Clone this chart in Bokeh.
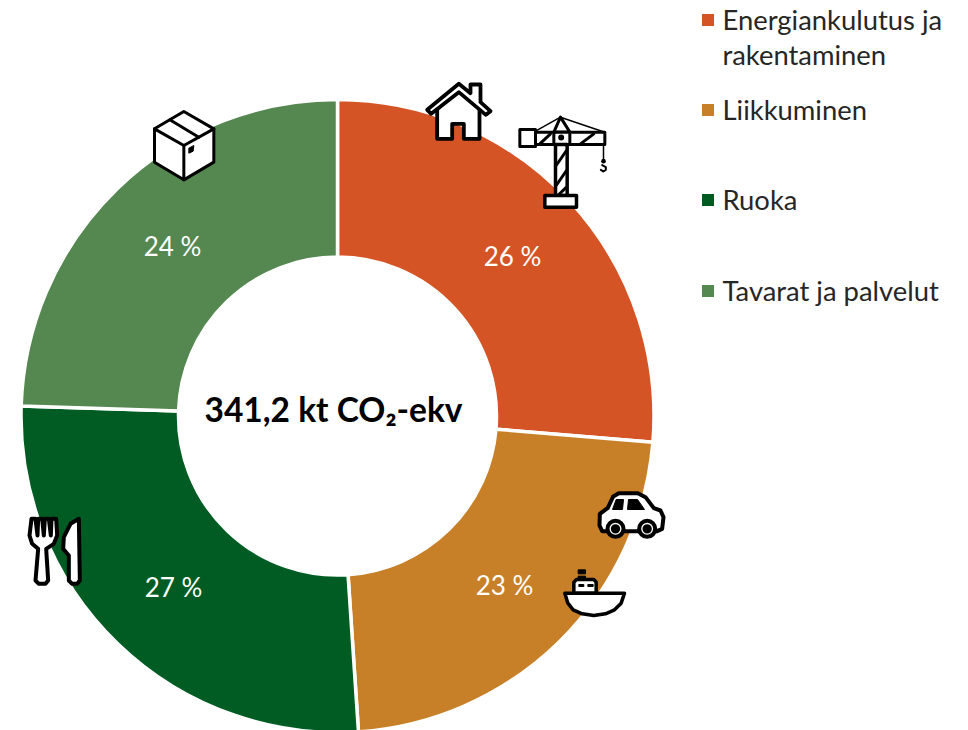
from math import pi
from bokeh.plotting import figure, ColumnDataSource
from bokeh.core.properties import value
from bokeh.embed import file_html
from bokeh.resources import INLINE

categories = ["Energiankulutus ja rakentaminen", "Liikkuminen", "Ruoka", "Tavarat ja palvelut"]
emissions = [89.8, 77.2, 90.6, 83.6]
percent_labels = ["26 %", "23 %", "27 %", "24 %"]
center_label = "341,2 kt CO₂-ekv"
colors = ["#D55425", "#C88028", "#005C23", "#558750"]

FONT = value("Lato")
W, H = 968, 730
p = figure(width=W, height=H, x_range=(0, W), y_range=(-H, 0),
           toolbar_location=None, output_backend="svg", min_border=0,
           outline_line_color=None, x_axis_location=None, y_axis_location=None)
p.grid.visible = False

# page-pixel helpers
CX, CY, R_OUT, R_IN = 337, -415.5, 316.5, 159

total = sum(emissions)
starts, ends, c = [], [], 0.0
for v in emissions:
    starts.append(pi / 2 - 2 * pi * c / total)
    c += v
    ends.append(pi / 2 - 2 * pi * c / total)
src = ColumnDataSource(dict(x=[CX] * 4, y=[CY] * 4, s=starts, e=ends, color=colors, cat=categories))
p.annular_wedge(x="x", y="y", inner_radius=R_IN, outer_radius=R_OUT, start_angle="s", end_angle="e",
                direction="clock", fill_color="color", line_color="white", line_width=3.5, source=src)

# percent labels
p.text(x=[512, 504, 173, 172], y=[-255.5, -584.5, -586.5, -245.5], text=percent_labels, text_color="white",
       text_font=FONT, text_font_size="26px", text_align="center", text_baseline="middle")
# centre label
p.text(x=[333], y=[-408.5], text=[center_label], text_color="black", text_font=FONT, text_font_style="bold",
       text_font_size="33.5px", text_align="center", text_baseline="middle")

# legend
legend_y = [-19.5, -109.5, -199.5, -290.5]
p.scatter(x=[707.5] * 4, y=legend_y, size=12, marker="square", fill_color=colors, line_color=None)
p.text(x=[722, 722, 722, 722, 722], y=[-18.5, -53.5, -108.5, -198.5, -289.5],
       text=["Energiankulutus ja", "rakentaminen", categories[1], categories[2], categories[3]],
       text_color="#262626", text_font=FONT, text_font_size="27.4px", text_align="left", text_baseline="middle")


# icons, traced in zoomed crops (3x)
def Z(ox, oy, pts):
    return [ox + a / 3 for a, b in pts], [-(oy + b / 3) for a, b in pts]


def shape(ox, oy, pts, fill="white", lw=3):
    xs, ys = Z(ox, oy, pts)
    p.patch(xs, ys, fill_color=fill, line_color="black", line_width=lw, line_join="round")


def stroke(ox, oy, pts, lw=3):
    xs, ys = Z(ox, oy, pts)
    p.line(xs, ys, line_color="black", line_width=lw, line_join="round", line_cap="round")


def dot(ox, oy, cx, cy, r, fill="black", lw=0):
    p.circle([ox + cx / 3], [-(oy + cy / 3)], radius=r / 3, fill_color=fill,
             line_color="black", line_width=lw)


def rect(ox, oy, a, b, c, d, fill="white", lw=3):
    shape(ox, oy, [(a, b), (c, b), (c, d), (a, d)], fill, lw)


# house
O = (410, 70)
shape(*O, [(80, 115), (145, 60), (207, 115), (207, 205), (160, 205), (160, 160), (125, 160), (125, 205), (80, 205)], lw=3.8)
shape(*O, [(50, 118), (145, 40), (180, 68), (180, 42), (210, 42), (210, 95), (240, 122), (226, 133),
           (145, 65), (62, 130)], lw=3.8)
# crane
stroke(*O, [(375, 182), (450, 140), (583, 185)], 1.5)
shape(*O, [(430, 185), (450, 140), (478, 185)])
rect(*O, 328, 177, 375, 228)
rect(*O, 375, 185, 583, 222)
stroke(*O, [(388, 220), (420, 190)])
stroke(*O, [(510, 220), (550, 190)])
rect(*O, 430, 185, 478, 222)
dot(*O, 452, 201, 9)
rect(*O, 435, 222, 470, 375, lw=3.5)
stroke(*O, [(437, 285), (468, 240)])
stroke(*O, [(437, 345), (468, 300)])
stroke(*O, [(445, 372), (468, 350)])
rect(*O, 403, 375, 498, 410, lw=3.5)
stroke(*O, [(579, 222), (579, 272)], 1.5)
dot(*O, 579, 272, 7)
stroke(*O, [(575, 284), (586, 290), (586, 298), (578, 303), (571, 298)], 2)

# car
O = (550, 480)
shape(*O, [(155, 152), (147, 135), (148, 100), (172, 82), (188, 48), (205, 38), (262, 38), (285, 50), (310, 83),
           (330, 90), (339, 110), (335, 145), (320, 152)], lw=4)
shape(*O, [(186, 87), (197, 57), (219, 57), (216, 87)], "black", 1)
shape(*O, [(231, 87), (234, 57), (261, 57), (282, 87)], "black", 1)
dot(*O, 195, 145, 24, "white", 4)
dot(*O, 290, 145, 24, "white", 4)
dot(*O, 195, 145, 14)
dot(*O, 290, 145, 14)
# boat
shape(*O, [(70, 338), (70, 305), (78, 297), (130, 297), (137, 305), (137, 338)], lw=3.5)
rect(*O, 85, 312, 100, 318, "black", 1)
rect(*O, 112, 312, 128, 318, "black", 1)
rect(*O, 83, 268, 105, 280, "black", 1)
rect(*O, 83, 287, 105, 293, "black", 1)
shape(*O, [(43, 338), (222, 338), (212, 368), (192, 388), (165, 400), (130, 405), (95, 400), (68, 388), (52, 368)], lw=3.5)

# fork and knife
O = (15, 505)
shape(*O, [(48, 40), (42, 90), (50, 115), (68, 130), (60, 225), (70, 235), (90, 235), (98, 225), (92, 130),
           (115, 115), (125, 90), (122, 40), (108, 40), (106, 90), (100, 40), (88, 40), (85, 90), (80, 40), (68, 40),
           (66, 90), (60, 40)], lw=4)
shape(*O, [(190, 40), (165, 55), (145, 95), (143, 130), (160, 150), (160, 225), (170, 235), (185, 235), (193, 225)],
      lw=4)

# box
O = (140, 100)
shape(*O, [(130, 33), (220, 85), (220, 185), (130, 238), (42, 185), (42, 85)])
stroke(*O, [(42, 85), (130, 135), (220, 85)])
stroke(*O, [(130, 135), (130, 238)])
stroke(*O, [(88, 58), (175, 110)])
shape(*O, [(145, 143), (160, 135), (158, 152), (145, 158)], "black", 1)

open("out.html", "w").write(file_html(p, INLINE))
